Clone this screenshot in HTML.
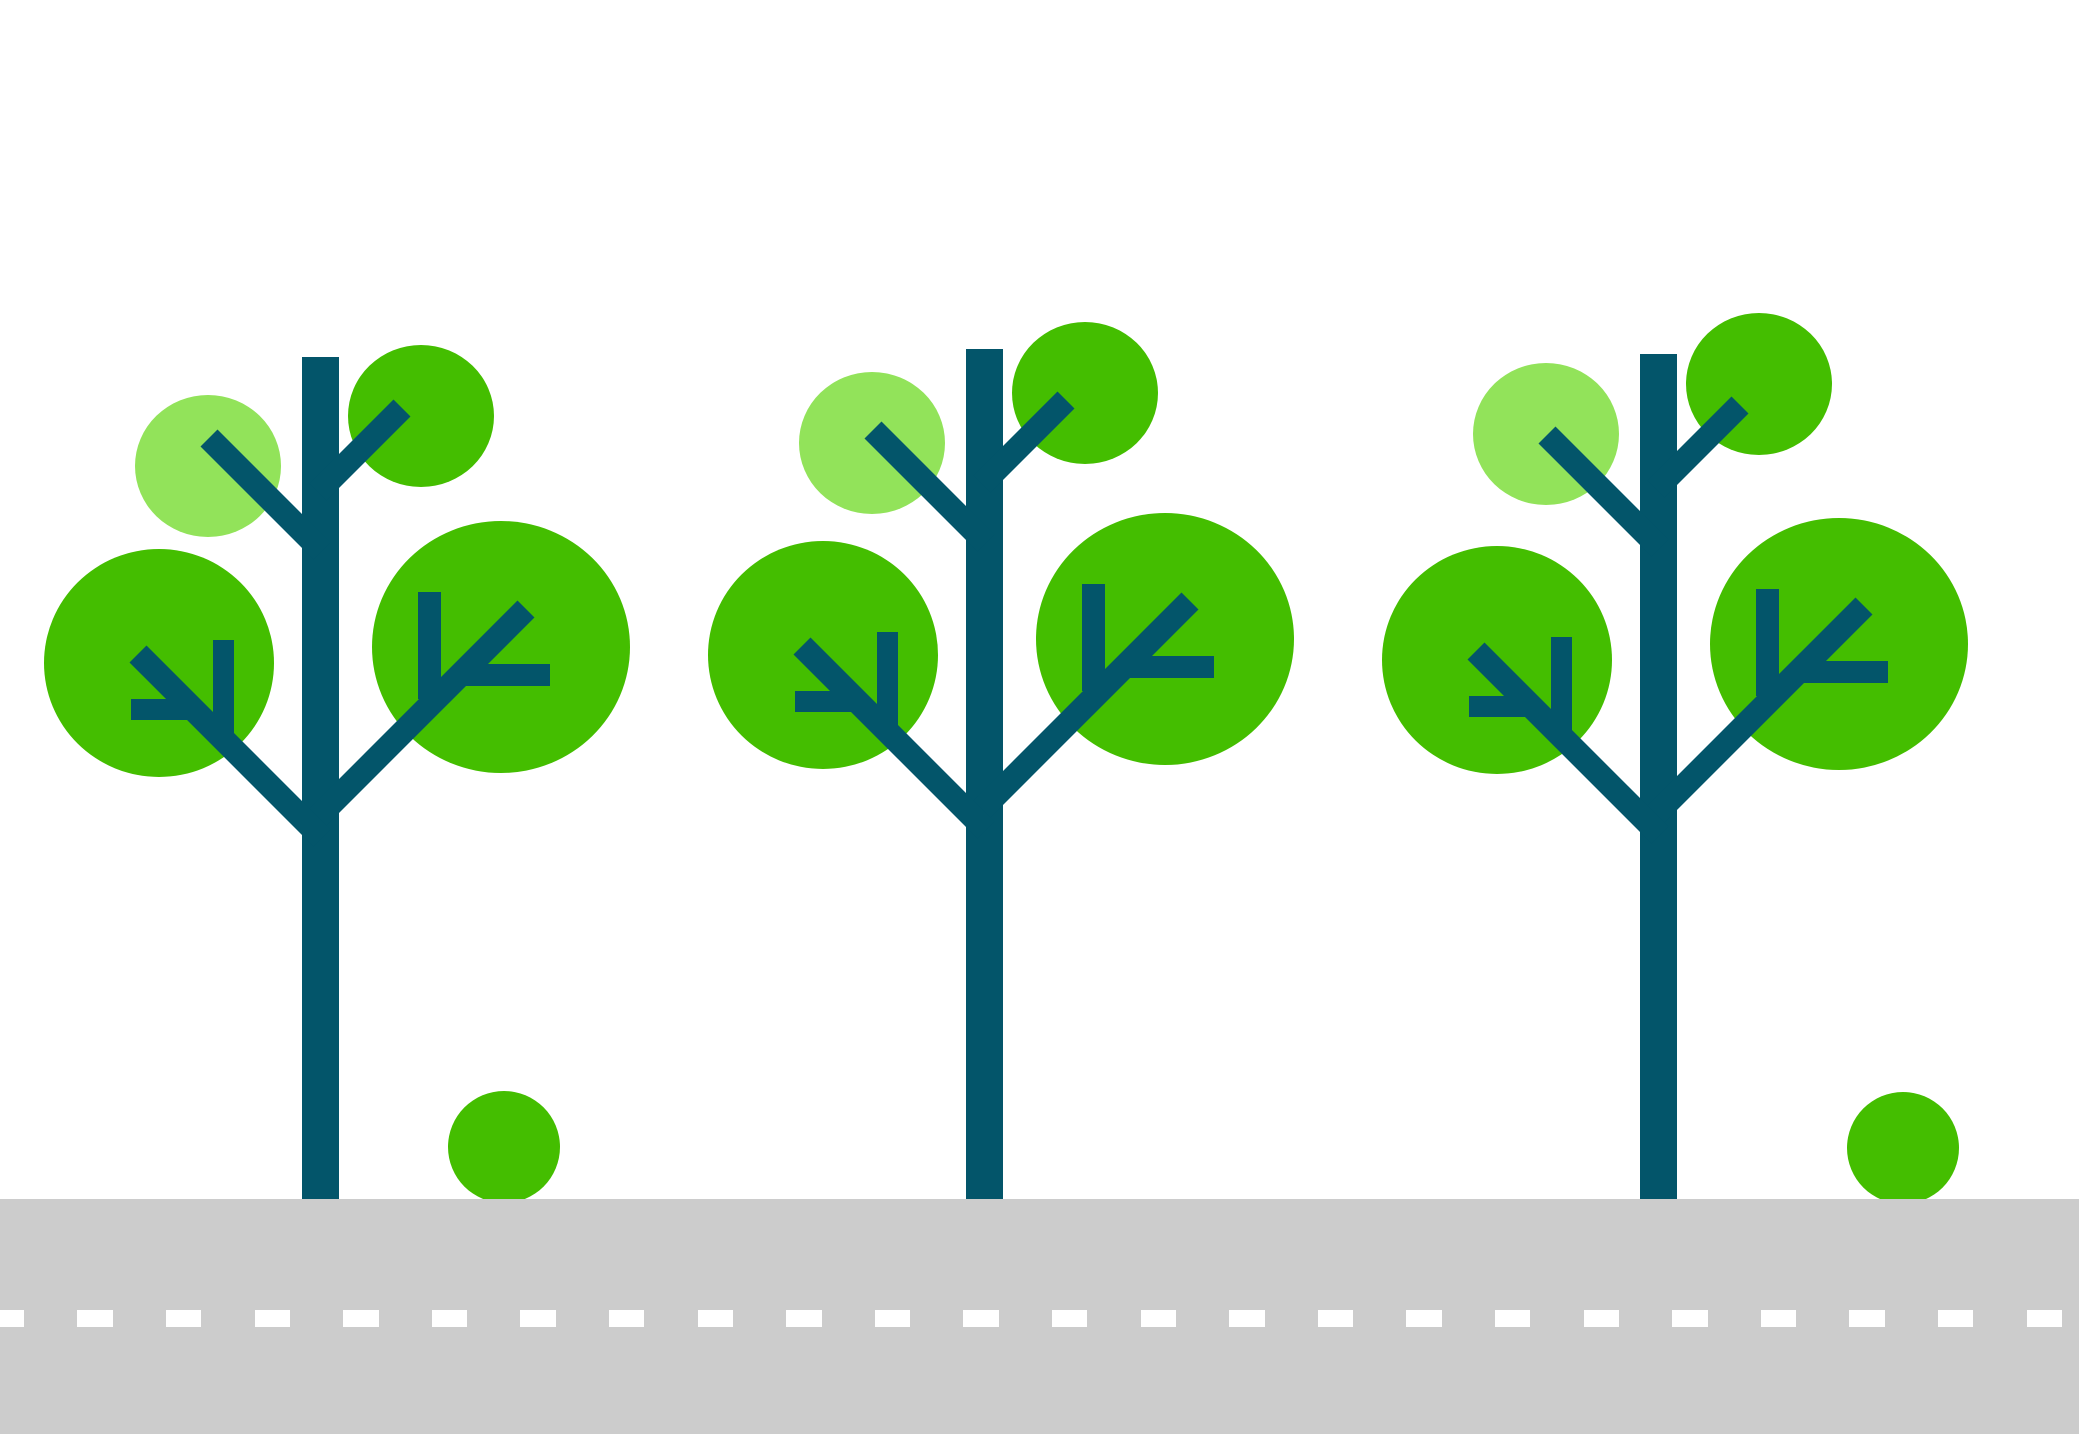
<!DOCTYPE html>
<html><head><meta charset="utf-8"><style>html,body{margin:0;padding:0;background:#fff}svg{display:block}</style></head>
<body>
<svg width="2079" height="1434" viewBox="0 0 2079 1434" xmlns="http://www.w3.org/2000/svg">
<defs>
<g id="crown">
<ellipse cx="159" cy="663" rx="115" ry="114" fill="#44be00"/>
<ellipse cx="501" cy="647" rx="129" ry="126" fill="#44be00"/>
</g>
<g id="wood" fill="#03556a">
<rect x="302" y="357" width="37" height="842"/>
<g stroke="#03556a" stroke-width="24" stroke-linecap="butt">
<line x1="209" y1="438" x2="322" y2="551"/>
<line x1="402" y1="408" x2="318" y2="492"/>
<line x1="138" y1="654" x2="322" y2="838"/>
<line x1="526" y1="609" x2="318" y2="817"/>
</g>
<rect x="213" y="640" width="21" height="93"/>
<rect x="131" y="699" width="56" height="21"/>
<rect x="418" y="592" width="23" height="107"/>
<rect x="466" y="664" width="84" height="22"/>
</g>
<g id="upper">
<ellipse cx="208" cy="466" rx="73" ry="71" fill="#92e35a"/>
<ellipse cx="421" cy="416" rx="73" ry="71" fill="#44be00"/>
</g>
</defs>
<ellipse cx="504" cy="1147" rx="56" ry="56" fill="#44be00"/>
<ellipse cx="1903" cy="1148" rx="56" ry="56" fill="#44be00"/>
<g><use href="#upper"/><use href="#crown"/><use href="#wood"/></g>
<g><use href="#upper" transform="translate(664,-23)"/><use href="#crown" transform="translate(664,-8)"/><use href="#wood" transform="translate(664,-8)"/></g>
<g><use href="#upper" transform="translate(1338,-32)"/><use href="#crown" transform="translate(1338,-3)"/><use href="#wood" transform="translate(1338,-3)"/></g>
<rect x="966" y="1100" width="37" height="99" fill="#03556a"/>
<rect x="1640" y="1100" width="37" height="99" fill="#03556a"/>
<rect x="0" y="1199" width="2079" height="235" fill="#cccccc"/>
<g fill="#ffffff">
<rect x="0" y="1310" width="24" height="17"/>
<rect x="77" y="1310" width="36" height="17"/>
<rect x="166" y="1310" width="35" height="17"/>
<rect x="255" y="1310" width="35" height="17"/>
<rect x="343" y="1310" width="36" height="17"/>
<rect x="432" y="1310" width="35" height="17"/>
<rect x="520" y="1310" width="36" height="17"/>
<rect x="609" y="1310" width="35" height="17"/>
<rect x="698" y="1310" width="35" height="17"/>
<rect x="786" y="1310" width="36" height="17"/>
<rect x="875" y="1310" width="35" height="17"/>
<rect x="963" y="1310" width="36" height="17"/>
<rect x="1052" y="1310" width="35" height="17"/>
<rect x="1141" y="1310" width="35" height="17"/>
<rect x="1229" y="1310" width="36" height="17"/>
<rect x="1318" y="1310" width="35" height="17"/>
<rect x="1406" y="1310" width="36" height="17"/>
<rect x="1495" y="1310" width="35" height="17"/>
<rect x="1584" y="1310" width="35" height="17"/>
<rect x="1672" y="1310" width="36" height="17"/>
<rect x="1761" y="1310" width="35" height="17"/>
<rect x="1849" y="1310" width="36" height="17"/>
<rect x="1938" y="1310" width="35" height="17"/>
<rect x="2027" y="1310" width="35" height="17"/>
</g>
</svg>
</body></html>
